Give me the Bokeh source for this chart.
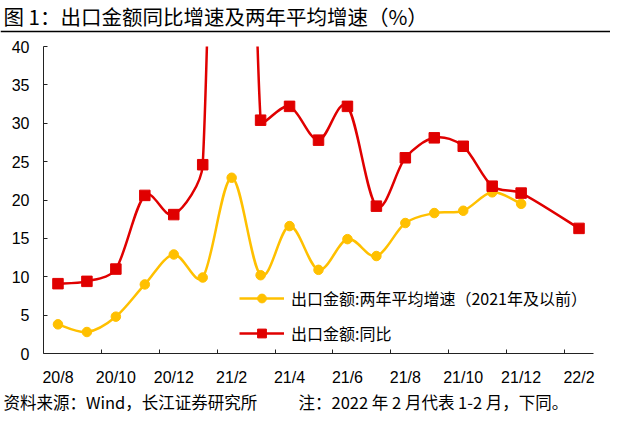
import math
from bokeh.plotting import figure
from bokeh.layouts import column
from bokeh.models import (FixedTicker, Label, Span, Legend, LegendItem,
                          ColumnDataSource, Range1d)
from bokeh.embed import file_html
from bokeh.resources import INLINE

# ---------------- data ----------------
months = ["20/8", "20/9", "20/10", "20/11", "20/12", "21/1", "21/2", "21/3",
          "21/4", "21/5", "21/6", "21/7", "21/8", "21/9", "21/10", "21/11",
          "21/12", "22/1", "22/2"]
# 出口金额:同比 (%)
yoy = [9.1, 9.4, 11.0, 20.6, 18.1, 24.6, 154.9, 30.4, 32.2, 27.8, 32.2, 19.2,
       25.5, 28.1, 27.0, 21.8, 20.9, None, 16.3]
# 出口金额:两年平均增速（2021年及以前）(%)
avg2y = [3.8, 2.8, 4.8, 9.0, 12.9, 9.9, 22.9, 10.2, 16.6, 10.9, 14.9, 12.7,
         17.0, 18.3, 18.6, 21.0, 19.5, None, None]
tick_labels = months[::2]

title_text = "图 1：出口金额同比增速及两年平均增速（%）"
source_text = "资料来源：Wind，长江证券研究所"
note_text = "注：2022 年 2 月代表 1-2 月，下同。"
name_avg = "出口金额:两年平均增速（2021年及以前）"
name_yoy = "出口金额:同比"

RED = "#E00000"
YELLOW = "#FFC000"
W = 610
CJK = "Noto Sans CJK SC"
LAT = "Liberation Sans"

# main plot geometry (pixels)
FRAME_L, FRAME_R = 43, 17
FRAME_W = W - FRAME_L - FRAME_R
FRAME_H = 308
X_RANGE = (-0.5, 18.5)
Y_RANGE = (0, 40)
PX_X = FRAME_W / (X_RANGE[1] - X_RANGE[0])
PX_Y = FRAME_H / (Y_RANGE[1] - Y_RANGE[0])


def bezier_source(values, k=1.0 / 3.0):
    """Smoothed line (chart-style) as cubic Bezier control points, computed in
    pixel space and mapped back to data units."""
    pts = [(float(i) * PX_X, v * PX_Y) for i, v in enumerate(values) if v is not None]
    n = len(pts)

    def tangent(i):
        a = pts[i - 1] if i > 0 else pts[i]
        b = pts[i + 1] if i < n - 1 else pts[i]
        dx, dy = b[0] - a[0], b[1] - a[1]
        L = math.hypot(dx, dy) or 1.0
        return dx / L, dy / L, L / 6.0

    d = dict(x0=[], y0=[], x1=[], y1=[], cx0=[], cy0=[], cx1=[], cy1=[])
    for i in range(n - 1):
        p1, p2 = pts[i], pts[i + 1]
        seg = math.hypot(p2[0] - p1[0], p2[1] - p1[1])
        t1x, t1y, cr1 = tangent(i)
        t2x, t2y, cr2 = tangent(i + 1)
        a1 = min(seg * k, cr1)
        a2 = min(seg * k, cr2)
        c1 = (p1[0] + t1x * a1, p1[1] + t1y * a1)
        c2 = (p2[0] - t2x * a2, p2[1] - t2y * a2)
        d["x0"].append(p1[0] / PX_X); d["y0"].append(p1[1] / PX_Y)
        d["x1"].append(p2[0] / PX_X); d["y1"].append(p2[1] / PX_Y)
        d["cx0"].append(c1[0] / PX_X); d["cy0"].append(c1[1] / PX_Y)
        d["cx1"].append(c2[0] / PX_X); d["cy1"].append(c2[1] / PX_Y)
    return ColumnDataSource(d)


def point_source(values):
    xs = [i for i, v in enumerate(values) if v is not None]
    ys = [v for v in values if v is not None]
    return ColumnDataSource(dict(x=xs, y=ys))


def blank_fig(height):
    f = figure(width=W, height=height, x_range=Range1d(0, W),
               y_range=Range1d(height, 0), output_backend="svg",
               toolbar_location=None, title=None, x_axis_type=None,
               y_axis_type=None, min_border=0, frame_align=False)
    f.min_border_left = f.min_border_right = 0
    f.min_border_top = f.min_border_bottom = 0
    f.outline_line_color = None
    f.xgrid.visible = False
    f.ygrid.visible = False
    f.border_fill_color = "white"
    f.background_fill_color = "white"
    return f


# ---------------- header ----------------
HEAD_H = 34
head = blank_fig(HEAD_H)
head.add_layout(Label(x=3, y=15, text=title_text, text_font=CJK,
                      text_font_size="20.5px", text_color="black",
                      text_baseline="middle", text_align="left"))
head.add_layout(Span(location=31, dimension="width", line_color="black",
                     line_width=1.5))

# ---------------- main chart ----------------
TOP, BOTTOM = 12, 34
p = figure(width=W, height=TOP + FRAME_H + BOTTOM, x_range=X_RANGE,
           y_range=Y_RANGE, output_backend="svg", toolbar_location=None,
           title=None, min_border_left=FRAME_L, min_border_right=FRAME_R,
           min_border_top=TOP, min_border_bottom=BOTTOM, frame_align=False)
p.outline_line_color = None
p.xgrid.visible = False
p.ygrid.visible = False
p.background_fill_color = "white"
p.border_fill_color = "white"

p.xaxis.ticker = FixedTicker(ticks=list(range(0, 19, 2)),
                             minor_ticks=[1.5 + 2 * k for k in range(9)])
p.xaxis.major_label_overrides = {i * 2: lab for i, lab in enumerate(tick_labels)}
p.xaxis.major_tick_in = 0
p.xaxis.major_tick_out = 0
p.xaxis.minor_tick_in = 4
p.xaxis.minor_tick_out = 0
p.xaxis.minor_tick_line_color = "#222222"
p.xaxis.axis_line_color = "#222222"
p.xaxis.major_label_text_font = LAT
p.xaxis.major_label_text_font_size = "16px"
p.xaxis.major_label_text_color = "black"
p.xaxis.major_label_standoff = 15

p.yaxis.ticker = FixedTicker(ticks=list(range(0, 41, 5)))
p.yaxis.major_tick_in = 4
p.yaxis.major_tick_out = 0
p.yaxis.minor_tick_line_color = None
p.yaxis.major_tick_line_color = "#222222"
p.yaxis.axis_line_color = "#222222"
p.yaxis.major_label_text_font = LAT
p.yaxis.major_label_text_font_size = "16px"
p.yaxis.major_label_text_color = "black"
p.yaxis.major_label_standoff = 14

p.bezier(x0="x0", y0="y0", x1="x1", y1="y1", cx0="cx0", cy0="cy0",
         cx1="cx1", cy1="cy1", source=bezier_source(avg2y),
         line_color=YELLOW, line_width=2.5)
avg_leg_line = p.line(x=[0], y=[float("nan")], line_color=YELLOW, line_width=2.5)
avg_pts = p.scatter(x="x", y="y", source=point_source(avg2y), marker="circle",
                    size=9.5, fill_color=YELLOW, line_color=YELLOW)

p.bezier(x0="x0", y0="y0", x1="x1", y1="y1", cx0="cx0", cy0="cy0",
         cx1="cx1", cy1="cy1", source=bezier_source(yoy),
         line_color=RED, line_width=2.5)
yoy_leg_line = p.line(x=[0], y=[float("nan")], line_color=RED, line_width=2.5)
yoy_pts = p.scatter(x="x", y="y", source=point_source(yoy), marker="square",
                    size=10.5, fill_color=RED, line_color=RED)

legend = Legend(items=[LegendItem(label=name_avg, renderers=[avg_leg_line, avg_pts]),
                       LegendItem(label=name_yoy, renderers=[yoy_leg_line, yoy_pts])],
                location=(196, 8))
legend.border_line_color = None
legend.background_fill_alpha = 0
legend.padding = 0
legend.margin = 0
legend.glyph_width = 45
legend.glyph_height = 22
legend.label_height = 22
legend.spacing = 11
legend.label_standoff = 7
legend.label_text_font = CJK
legend.label_text_font_size = "16px"
legend.label_text_color = "black"
p.add_layout(legend)

# ---------------- footer ----------------
FOOT_H = 26
foot = blank_fig(FOOT_H)
foot.add_layout(Label(x=3, y=13, text=source_text, text_font=CJK,
                      text_font_size="16.5px", text_color="black",
                      text_baseline="middle", text_align="left"))
foot.add_layout(Label(x=298, y=13, text=note_text, text_font=CJK,
                      text_font_size="16.5px", text_color="black",
                      text_baseline="middle", text_align="left"))

page = column(head, p, foot, spacing=0)
open("out.html", "w").write(file_html(page, INLINE))
